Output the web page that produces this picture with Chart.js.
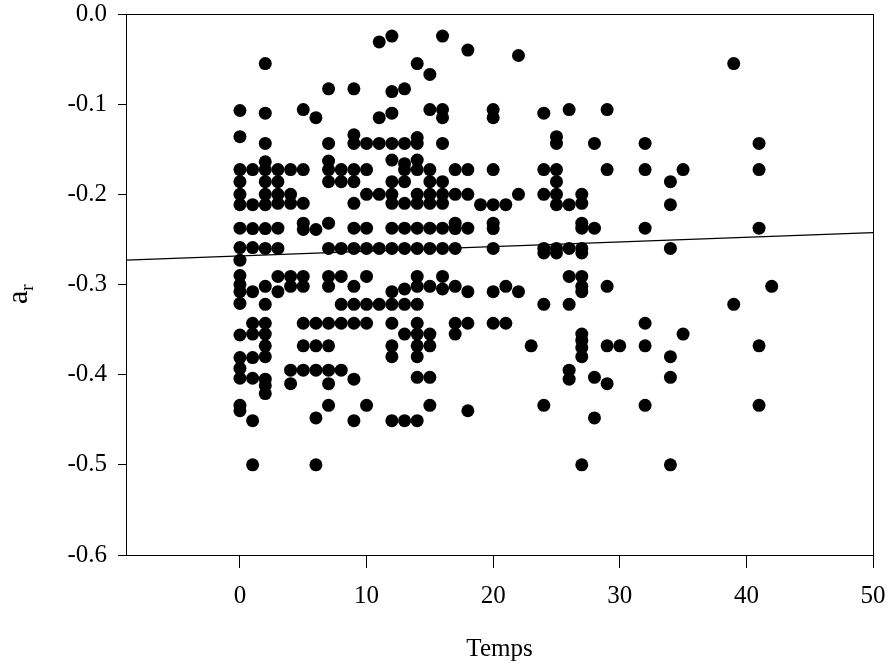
<!DOCTYPE html>
<html>
<head>
<meta charset="utf-8">
<script src="https://cdn.jsdelivr.net/npm/chart.js@4.4.1/dist/chart.umd.min.js"></script>
<style>
  html, body { margin: 0; padding: 0; background: #fff; }
  #wrap { width: 889px; height: 665px; position: relative; }
</style>
</head>
<body>
<div id="wrap"><canvas id="chart"></canvas></div>
<script>
// Temps (jours) et valeurs a_r, une liste par jour
const days = [0, 1, 2, 3, 4, 5, 6, 7, 8, 9, 10, 11, 12, 13, 14, 15, 16, 17, 18, 19, 20,
  21, 22, 23, 24, 25, 26, 27, 28, 29, 30, 32, 34, 35, 39, 41, 42]

const arByDay = [
  [-0.107, -0.136, -0.1725, -0.186, -0.2, -0.2115, -0.2375, -0.259, -0.273, -0.29, -0.3, -0.308, -0.321, -0.356, -0.381, -0.393, -0.404, -0.434, -0.44],
  [-0.1725, -0.2115, -0.238, -0.259, -0.308, -0.343, -0.355, -0.381, -0.404, -0.451, -0.5],
  [-0.055, -0.11, -0.1435, -0.164, -0.1725, -0.186, -0.2, -0.2115, -0.238, -0.26, -0.302, -0.322, -0.343, -0.355, -0.368, -0.38, -0.405, -0.412, -0.421],
  [-0.1725, -0.186, -0.2, -0.21, -0.2375, -0.26, -0.291, -0.308],
  [-0.1725, -0.2, -0.21, -0.291, -0.302, -0.395, -0.41],
  [-0.106, -0.1725, -0.21, -0.232, -0.239, -0.291, -0.302, -0.343, -0.368, -0.395],
  [-0.115, -0.239, -0.343, -0.368, -0.395, -0.448, -0.5],
  [-0.083, -0.1435, -0.163, -0.1725, -0.186, -0.232, -0.26, -0.291, -0.302, -0.343, -0.368, -0.395, -0.41, -0.434],
  [-0.1725, -0.186, -0.26, -0.291, -0.322, -0.343, -0.395],
  [-0.083, -0.134, -0.1435, -0.1725, -0.186, -0.21, -0.2375, -0.26, -0.302, -0.322, -0.343, -0.405, -0.451],
  [-0.1435, -0.1725, -0.2, -0.2375, -0.26, -0.291, -0.322, -0.343, -0.434],
  [-0.031, -0.115, -0.1435, -0.2, -0.26, -0.322],
  [-0.0245, -0.086, -0.11, -0.1435, -0.162, -0.186, -0.2, -0.21, -0.2375, -0.26, -0.308, -0.322, -0.343, -0.368, -0.38, -0.451],
  [-0.083, -0.1435, -0.166, -0.1725, -0.186, -0.21, -0.2375, -0.26, -0.305, -0.322, -0.355, -0.451],
  [-0.055, -0.137, -0.1435, -0.162, -0.1725, -0.2, -0.21, -0.2375, -0.26, -0.291, -0.302, -0.322, -0.343, -0.355, -0.368, -0.38, -0.403, -0.451],
  [-0.067, -0.106, -0.1725, -0.186, -0.2, -0.21, -0.2375, -0.26, -0.302, -0.355, -0.368, -0.403, -0.434],
  [-0.0245, -0.106, -0.115, -0.1435, -0.186, -0.2, -0.21, -0.2375, -0.26, -0.291, -0.305],
  [-0.1725, -0.2, -0.232, -0.238, -0.26, -0.302, -0.343, -0.355],
  [-0.04, -0.1725, -0.2, -0.2375, -0.308, -0.343, -0.44],
  [-0.2115],
  [-0.106, -0.115, -0.1725, -0.2115, -0.232, -0.238, -0.26, -0.308, -0.343],
  [-0.2115, -0.302, -0.343],
  [-0.046, -0.2, -0.308],
  [-0.368],
  [-0.11, -0.1725, -0.2, -0.26, -0.265, -0.322, -0.434],
  [-0.136, -0.1435, -0.1725, -0.186, -0.2, -0.2115, -0.26, -0.265],
  [-0.106, -0.2115, -0.26, -0.291, -0.322, -0.395, -0.405],
  [-0.2, -0.21, -0.232, -0.2375, -0.26, -0.265, -0.291, -0.302, -0.308, -0.355, -0.362, -0.37, -0.38, -0.5],
  [-0.1435, -0.2375, -0.403, -0.448],
  [-0.106, -0.1725, -0.302, -0.368, -0.41],
  [-0.368],
  [-0.1435, -0.1725, -0.2375, -0.343, -0.368, -0.434],
  [-0.186, -0.2115, -0.26, -0.38, -0.403, -0.5],
  [-0.1725, -0.355],
  [-0.055, -0.322],
  [-0.1435, -0.1725, -0.2375, -0.368, -0.434],
  [-0.302]
]

// Droite de régression (extrémités)
const trendX = [-9, 50]
const trendY = [-0.273, -0.2425]

const xTicks = [0, 10, 20, 30, 40, 50]
const yTicks = [0, -0.1, -0.2, -0.3, -0.4, -0.5, -0.6]

const points = []
days.forEach((d, i) => {
  arByDay[i].forEach(v => points.push({ x: d, y: v }))
})

const FONT = "'Liberation Serif', 'Times New Roman', serif"
Chart.defaults.font.family = FONT
Chart.defaults.font.size = 25
Chart.defaults.color = "#000"

// Cadre complet + titres des axes (indice sur a_r)
const framePlugin = {
  id: "frame",
  afterDraw(chart) {
    const { ctx, chartArea: a } = chart
    ctx.save()
    ctx.strokeStyle = "#000"
    ctx.lineWidth = 1
    ctx.strokeRect(a.left + 0.5, a.top + 0.5, a.right - a.left, a.bottom - a.top)

    ctx.fillStyle = "#000"
    ctx.textBaseline = "alphabetic"
    ctx.textAlign = "center"
    ctx.font = "25px " + FONT
    ctx.fillText("Temps", (a.left + a.right) / 2, 656)

    ctx.translate(27, 304)
    ctx.rotate(-Math.PI / 2)
    ctx.textAlign = "left"
    ctx.font = "30px " + FONT
    ctx.fillText("a", 0, 0)
    const w = ctx.measureText("a").width
    ctx.font = "19px " + FONT
    ctx.fillText("r", w, 6)
    ctx.restore()
  }
}

new Chart(document.getElementById("chart"), {
  type: "scatter",
  data: {
    datasets: [
      {
        data: points,
        backgroundColor: "#000",
        borderWidth: 0,
        pointRadius: 6.5,
        pointHoverRadius: 6.5
      },
      {
        type: "line",
        data: trendX.map((x, i) => ({ x, y: trendY[i] })),
        borderColor: "#000",
        borderWidth: 1.2,
        pointRadius: 0,
        fill: false
      }
    ]
  },
  options: {
    responsive: true,
    maintainAspectRatio: false,
    animation: false,
    devicePixelRatio: 1,
    layout: { padding: { top: 14, right: 16, left: 0, bottom: 0 } },
    plugins: {
      legend: { display: false },
      tooltip: { enabled: false }
    },
    scales: {
      x: {
        type: "linear",
        min: -9,
        max: 50,
        afterBuildTicks: s => { s.ticks = xTicks.map(v => ({ value: v })) },
        afterFit: s => { s.height = 110; s.paddingLeft = 0; s.paddingRight = 0 },
        ticks: { padding: 13, maxRotation: 0, callback: v => String(v) },
        grid: { drawOnChartArea: false, tickLength: 13, color: "#000", lineWidth: 1 },
        border: { color: "#000", width: 1 }
      },
      y: {
        type: "linear",
        min: -0.6,
        max: 0,
        afterBuildTicks: s => { s.ticks = yTicks.map(v => ({ value: v })) },
        afterFit: s => { s.width = 126; s.paddingTop = 0; s.paddingBottom = 0 },
        ticks: { padding: 11, callback: v => Math.abs(v).toFixed(1) === "0.0" ? "0.0" : v.toFixed(1) },
        grid: { drawOnChartArea: false, tickLength: 8, color: "#000", lineWidth: 1 },
        border: { color: "#000", width: 1 }
      }
    }
  },
  plugins: [framePlugin]
})
</script>
</body>
</html>
